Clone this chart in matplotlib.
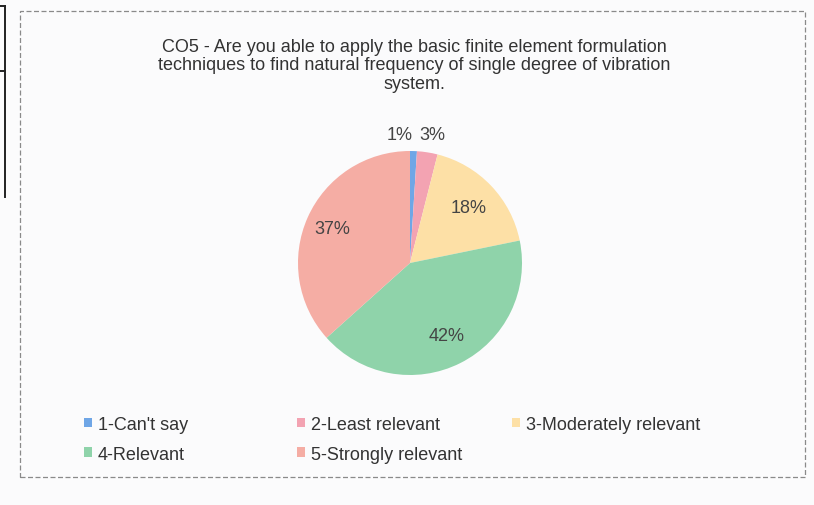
import matplotlib.pyplot as plt
from matplotlib.lines import Line2D
from matplotlib.patches import Rectangle
import numpy as np

plt.rcParams['font.family'] = ['Liberation Sans', 'DejaVu Sans']

# data
categories = ["1-Can't say", "2-Least relevant", "3-Moderately relevant",
              "4-Relevant", "5-Strongly relevant"]
values = [1, 3, 18, 42, 37]
pct_labels = ["1%", "3%", "18%", "42%", "37%"]
colors = ["#6fa6e6", "#f3a3b2", "#fde0a6", "#8fd3aa", "#f5ada4"]
title = ("CO5 - Are you able to apply the basic finite element formulation\n"
         "techniques to find natural frequency of single degree of vibration\n"
         "system.")

W, H = 814, 506
fig = plt.figure(figsize=(W / 100, H / 100), dpi=100, facecolor="#fbfbfc")

# outer dashed chart frame and the edge of the neighbouring box
fig.patches.append(Rectangle((20 / W, 1 - 478 / H), 785 / W, 466 / H,
                             transform=fig.transFigure, fill=False,
                             edgecolor="#8a8a8a", lw=0.9, ls=(0, (4, 2))))
fig.lines.append(Line2D([5 / W, 5 / W], [1 - 7 / H, 1 - 198 / H],
                        transform=fig.transFigure, color="#222222", lw=1.4))
fig.lines.append(Line2D([0, 5 / W], [1 - 7 / H, 1 - 7 / H],
                        transform=fig.transFigure, color="#222222", lw=1.4))
fig.lines.append(Line2D([0, 5 / W], [1 - 72 / H, 1 - 72 / H],
                        transform=fig.transFigure, color="#222222", lw=1.4))

fig.text(414 / W, 1 - 66 / H, title, ha="center", va="center",
         fontsize=13, color="#333333", linespacing=1.15)

# pie
cx, cy, r = 410, 264, 112
ax = fig.add_axes([(cx - r) / W, (H - cy - r) / H, 2 * r / W, 2 * r / H])
wedges, _ = ax.pie(values, colors=colors, startangle=90, counterclock=False,
                   wedgeprops=dict(linewidth=0))
ax.set_xlim(-1, 1)
ax.set_ylim(-1, 1)
ax.set_aspect("equal")

# small slices get their labels above the pie, side by side
label_dist = [1.15, 1.15, 0.72, 0.72, 0.76]
label_shift = [-0.09, 0.2, 0, 0, 0]
for w, lab, d, s in zip(wedges, pct_labels, label_dist, label_shift):
    ang = np.deg2rad((w.theta1 + w.theta2) / 2)
    if d > 1.05:
        x, y = s, d
    else:
        x, y = d * np.cos(ang), d * np.sin(ang)
    ax.text(x, y, lab, ha="center", va="center", fontsize=13,
            color="#444444")

# legend, laid out in rows like the original
order = [[0, 3], [1, 4], [2]]
col_x = [84, 297, 512]
for grp, x in zip(order, col_x):
    fig.legend([wedges[i] for i in grp], [categories[i] for i in grp],
               loc="upper left", bbox_to_anchor=(x / W, 1 - 417 / H),
               frameon=False, fontsize=13, handlelength=0.45,
               handleheight=0.45, handletextpad=0.3, labelspacing=0.7,
               borderpad=0, borderaxespad=0, labelcolor="#333333")

fig.savefig("out.png", dpi=100, facecolor=fig.get_facecolor())
